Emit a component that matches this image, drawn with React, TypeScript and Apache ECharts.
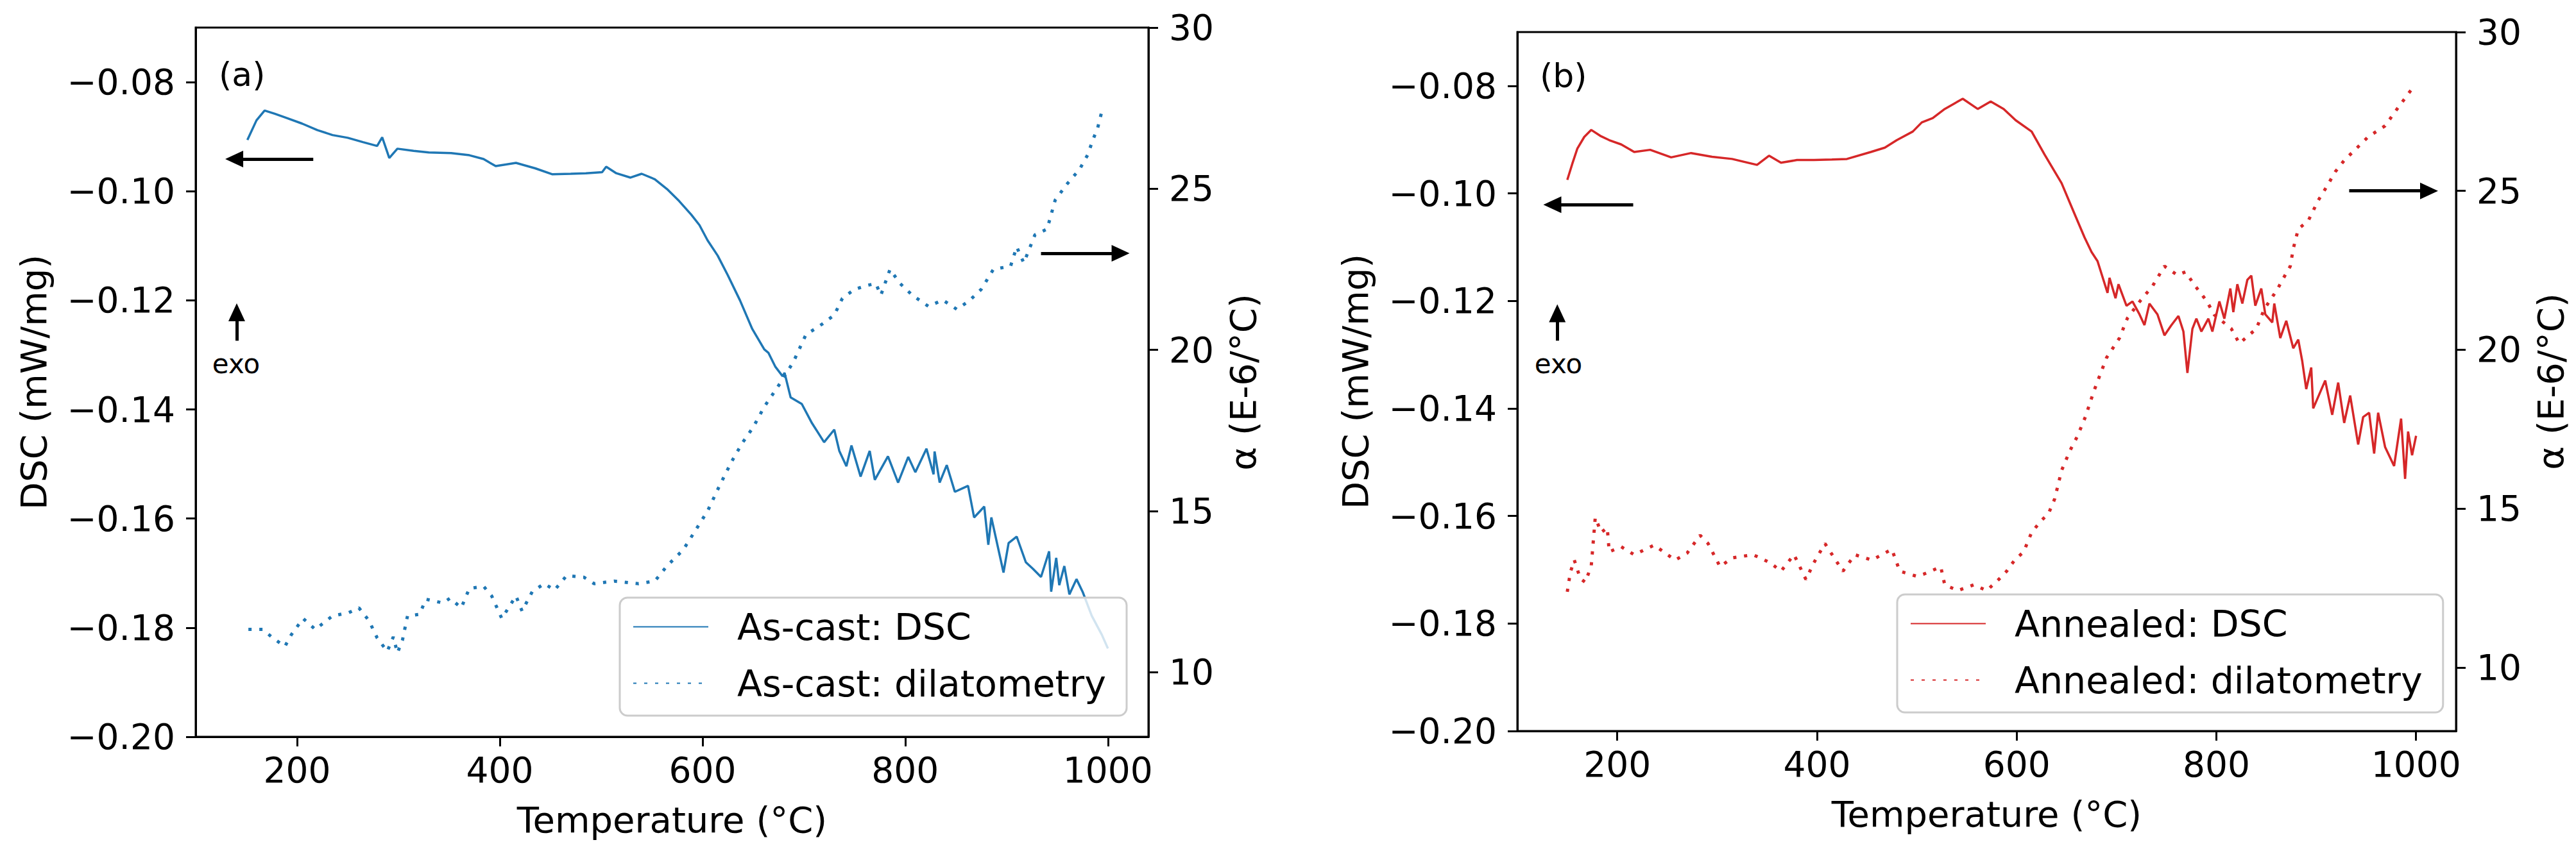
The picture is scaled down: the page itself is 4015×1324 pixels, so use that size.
import React, { useEffect, useRef } from 'react';
import * as echarts from 'echarts';

// ---------- data ----------
const xTicks = [200, 400, 600, 800, 1000];
const dscTicks = [-0.2, -0.18, -0.16, -0.14, -0.12, -0.1, -0.08];
const alphaTicks = [10, 15, 20, 25, 30];

// (a) As-cast DSC (mW/mg)
const aDscT = [151,160,168,178,190,205,220,235,250,265,279,284,291,299,315,330,352,370,384,396,416,435,452,470,485,501,505,515,529,540,553,565,577,589,597,605,615,625,637,649,661,665,672,679,681,687,698,708,720,730,735,742,747,756,765,770,783,793,803,810,821,828,829,834,841,849,862,868,878,882,885,897,902,910,919,926,934,942,944,949,952,957,962,969,975,984,994,1000];
const aDscV = [-0.0906,-0.0870,-0.0852,-0.0858,-0.0866,-0.0876,-0.0888,-0.0897,-0.0902,-0.0910,-0.0917,-0.0901,-0.0939,-0.0922,-0.0926,-0.0929,-0.0930,-0.0934,-0.0941,-0.0954,-0.0948,-0.0958,-0.0969,-0.0968,-0.0967,-0.0965,-0.0955,-0.0967,-0.0975,-0.0968,-0.0978,-0.0996,-0.1018,-0.1043,-0.1062,-0.1090,-0.1118,-0.1154,-0.1200,-0.1252,-0.1290,-0.1296,-0.1322,-0.1339,-0.1333,-0.1378,-0.1390,-0.1425,-0.1460,-0.1437,-0.1476,-0.1504,-0.1466,-0.1523,-0.1476,-0.1529,-0.1486,-0.1534,-0.1487,-0.1515,-0.1472,-0.1519,-0.1477,-0.1534,-0.1502,-0.1551,-0.1540,-0.1598,-0.1578,-0.1648,-0.1598,-0.1699,-0.1645,-0.1633,-0.1680,-0.1692,-0.1707,-0.1660,-0.1734,-0.1672,-0.1722,-0.1687,-0.1739,-0.1711,-0.1734,-0.1778,-0.1813,-0.1838];

// (a) As-cast dilatometry alpha (E-6/°C)
const aDilT = [152,166,176,188,194,206,218,235,251,261,271,279,289,295,299,304,309,321,327,344,351,362,370,384,392,402,416,422,432,444,454,466,483,493,513,537,553,565,581,593,605,617,629,639,650,661,678,690,702,718,730,738,750,762,771,776,785,795,807,823,837,851,863,875,887,904,910,917,928,940,948,960,972,980,985,990,994];
const aDilV = [11.33,11.33,11.07,10.8,11.15,11.67,11.33,11.75,11.85,12.0,11.6,11.07,10.65,11.1,10.6,11.0,11.75,11.8,12.27,12.15,12.3,12.0,12.6,12.67,12.37,11.67,12.37,11.9,12.5,12.75,12.55,13.0,12.95,12.75,12.83,12.75,12.83,13.3,13.8,14.4,15.0,15.8,16.55,17.1,17.6,18.24,19.03,19.65,20.47,20.8,21.08,21.6,21.88,22.0,22.06,21.7,22.5,22.06,21.7,21.35,21.55,21.26,21.52,21.88,22.5,22.6,23.2,22.7,23.57,23.75,24.65,25.16,25.6,26.05,26.5,26.9,27.4];

// (b) Annealed DSC (mW/mg)
const bDscT = [150,155,160,167,174,183,192,204,217,233,254,274,295,315,340,352,364,380,397,415,430,454,468,480,496,505,516,528,546,561,574,587,599,615,628,645,657,668,675,681,691,693,699,702,710,716,723,728,733,741,748,755,762,767,771,776,780,785,792,796,803,808,814,817,821,826,831,835,839,845,849,856,858,864,870,877,882,886,890,895,897,909,916,922,928,934,942,947,953,958,962,969,978,985,989,992,996,1000];
const bDscV = [-0.0975,-0.0945,-0.0917,-0.0895,-0.0882,-0.0893,-0.0901,-0.0909,-0.0923,-0.0919,-0.0933,-0.0925,-0.0932,-0.0936,-0.0947,-0.0930,-0.0943,-0.0938,-0.0938,-0.0937,-0.0936,-0.0923,-0.0915,-0.0901,-0.0885,-0.0868,-0.0860,-0.0843,-0.0824,-0.0843,-0.0829,-0.0843,-0.0864,-0.0885,-0.0928,-0.0981,-0.1034,-0.1082,-0.1109,-0.1126,-0.1185,-0.1157,-0.1195,-0.1169,-0.1209,-0.1201,-0.1225,-0.1245,-0.1205,-0.1225,-0.1264,-0.1245,-0.1228,-0.1257,-0.1334,-0.1252,-0.1233,-0.1257,-0.1233,-0.1257,-0.1201,-0.1233,-0.1177,-0.1221,-0.1169,-0.1205,-0.1161,-0.1153,-0.1209,-0.1177,-0.1225,-0.1240,-0.1205,-0.1269,-0.1237,-0.1288,-0.1272,-0.1312,-0.1364,-0.1324,-0.1400,-0.1348,-0.1412,-0.1352,-0.1427,-0.1376,-0.1467,-0.1416,-0.1408,-0.1484,-0.1408,-0.1472,-0.1507,-0.1419,-0.1531,-0.1443,-0.1487,-0.1451];

// (b) Annealed dilatometry alpha (E-6/°C)
const bDilT = [150,153,157,163,168,174,178,184,190,192,204,217,237,258,270,283,291,303,315,336,353,364,377,389,397,408,426,438,455,475,483,500,507,524,528,541,557,570,582,590,598,607,615,624,632,638,645,653,661,669,677,690,703,711,724,736,748,761,769,779,790,798,815,823,840,848,861,868,874,877,882,892,902,911,919,928,940,952,969,981,996];
const bDilV = [12.38,12.99,13.38,12.8,12.68,13.2,14.72,14.25,14.4,13.64,13.8,13.55,13.85,13.38,13.6,14.16,13.9,13.17,13.45,13.55,13.3,13.03,13.55,12.77,13.3,13.9,13.03,13.55,13.38,13.72,13.03,12.87,12.94,13.17,12.6,12.42,12.6,12.42,12.77,13.03,13.38,13.64,14.25,14.6,14.85,15.3,16.2,16.8,17.29,17.9,18.67,19.75,20.37,21.0,21.55,22.0,22.63,22.35,22.45,22.0,21.55,21.1,20.66,20.2,20.66,21.28,21.9,22.3,22.63,23.18,23.8,24.06,24.7,25.16,25.6,25.96,26.33,26.7,27.05,27.58,28.22];

// ---------- styling ----------
const FONT = 'DejaVu Sans';
const BLUE = '#1f77b4';
const RED = '#d62728';
const INK = '#000';

const pairs = (t: number[], v: number[]) => t.map((x, i) => [x, v[i]]);
const minus = (s: string) => s.replace('-', '\u2212');

function xAxisCfg(gridIndex: number) {
  return {
    type: 'value', gridIndex, min: 100, max: 1040,
    axisLine: { show: true, lineStyle: { color: INK, width: 3 } },
    axisTick: { show: true, length: 15, lineStyle: { color: INK, width: 3 }, customValues: xTicks },
    axisLabel: { customValues: xTicks, fontSize: 55, fontFamily: FONT, color: INK, margin: 24,
      formatter: (v: number) => String(v) },
    splitLine: { show: false },
    name: 'Temperature (°C)', nameLocation: 'middle', nameGap: 101,
    nameTextStyle: { fontSize: 56, fontFamily: FONT, color: INK },
  };
}
function dscAxisCfg(gridIndex: number) {
  return {
    type: 'value', gridIndex, position: 'left', min: -0.2, max: -0.07,
    axisLine: { show: true, lineStyle: { color: INK, width: 3 } },
    axisTick: { show: true, length: 15, lineStyle: { color: INK, width: 3 }, customValues: dscTicks },
    axisLabel: { customValues: dscTicks, fontSize: 55, fontFamily: FONT, color: INK, margin: 32,
      formatter: (v: number) => minus(v.toFixed(2)) },
    splitLine: { show: false },
    name: 'DSC (mW/mg)', nameLocation: 'middle', nameRotate: 90, nameGap: 225,
    nameTextStyle: { fontSize: 56, fontFamily: FONT, color: INK },
  };
}
function alphaAxisCfg(gridIndex: number) {
  return {
    type: 'value', gridIndex, position: 'right', min: 8, max: 30,
    axisLine: { show: true, lineStyle: { color: INK, width: 3 } },
    axisTick: { show: true, length: 15, lineStyle: { color: INK, width: 3 }, customValues: alphaTicks },
    axisLabel: { customValues: alphaTicks, fontSize: 55, fontFamily: FONT, color: INK, margin: 32,
      formatter: (v: number) => String(v) },
    splitLine: { show: false },
    name: 'α (E-6/°C)', nameLocation: 'middle', nameRotate: 90, nameGap: 119,
    nameTextStyle: { fontSize: 56, fontFamily: FONT, color: INK, verticalAlign: 'top' },
  };
}

const arrowMark = (lines: any[]) => ({
  silent: true,
  symbol: ['none', 'triangle'],
  symbolSize: [26, 28],
  label: { show: false },
  lineStyle: { color: INK, width: 5, type: 'solid' },
  emphasis: { disabled: true },
  data: lines,
});

function legendCfg(names: string[], left: number, top: number) {
  return {
    data: names, orient: 'vertical', left, top,
    itemWidth: 117, itemHeight: 20, itemGap: 31,
    padding: [17, 32, 22, 20],
    backgroundColor: 'rgba(255,255,255,0.8)',
    borderColor: '#cccccc', borderWidth: 3, borderRadius: 12,
    itemStyle: { opacity: 0 },
    textStyle: { fontSize: 57, fontFamily: FONT, color: INK, padding: [0, 0, 0, 40] },
    selectedMode: false,
  };
}

const option: any = {
  animation: false,
  backgroundColor: '#fff',
  textStyle: { fontFamily: FONT },
  grid: [
    { left: 305, top: 43, width: 1485, height: 1106, show: true, borderColor: INK, borderWidth: 3, backgroundColor: 'transparent' },
    { left: 2365, top: 50, width: 1463, height: 1090, show: true, borderColor: INK, borderWidth: 3, backgroundColor: 'transparent' },
  ],
  xAxis: [xAxisCfg(0), xAxisCfg(1)],
  yAxis: [dscAxisCfg(0), alphaAxisCfg(0), dscAxisCfg(1), alphaAxisCfg(1)],
  legend: [
    legendCfg(['As-cast: DSC', 'As-cast: dilatometry'], 966, 932),
    legendCfg(['Annealed: DSC', 'Annealed: dilatometry'], 2957, 927),
  ],
  series: [
    {
      name: 'As-cast: DSC', type: 'line', xAxisIndex: 0, yAxisIndex: 0, symbol: 'none',
      data: pairs(aDscT, aDscV), lineStyle: { color: BLUE, width: 3.5 }, itemStyle: { color: BLUE },
      markLine: arrowMark([
        [{ coord: [216, -0.0941] }, { coord: [138, -0.0941] }],
        [{ coord: [140.5, -0.1274] }, { coord: [140.5, -0.1222] }],
      ]),
    },
    {
      name: 'As-cast: dilatometry', type: 'line', xAxisIndex: 0, yAxisIndex: 1, symbol: 'none',
      data: pairs(aDilT, aDilV), lineStyle: { color: BLUE, width: 5, type: [5, 12] }, itemStyle: { color: BLUE },
      markLine: arrowMark([
        [{ coord: [934, 23.0] }, { coord: [1012.5, 23.0] }],
      ]),
    },
    {
      name: 'Annealed: DSC', type: 'line', xAxisIndex: 1, yAxisIndex: 2, symbol: 'none',
      data: pairs(bDscT, bDscV), lineStyle: { color: RED, width: 3.5 }, itemStyle: { color: RED },
      markLine: arrowMark([
        [{ coord: [216, -0.1021] }, { coord: [135, -0.1021] }],
        [{ coord: [140, -0.1274] }, { coord: [140, -0.1223] }],
      ]),
    },
    {
      name: 'Annealed: dilatometry', type: 'line', xAxisIndex: 1, yAxisIndex: 3, symbol: 'none',
      data: pairs(bDilT, bDilV), lineStyle: { color: RED, width: 5, type: [5, 12] }, itemStyle: { color: RED },
      markLine: arrowMark([
        [{ coord: [933, 25.0] }, { coord: [1013, 25.0] }],
      ]),
    },
  ],
  graphic: [
    { type: 'text', x: 341, y: 116, style: { text: '(a)', fontSize: 52, fontFamily: FONT, fill: INK, align: 'left', verticalAlign: 'middle' } },
    { type: 'text', x: 368, y: 567, style: { text: 'exo', fontSize: 42, fontFamily: FONT, fill: INK, align: 'center', verticalAlign: 'middle' } },
    { type: 'text', x: 2400, y: 118, style: { text: '(b)', fontSize: 52, fontFamily: FONT, fill: INK, align: 'left', verticalAlign: 'middle' } },
    { type: 'text', x: 2429, y: 567, style: { text: 'exo', fontSize: 42, fontFamily: FONT, fill: INK, align: 'center', verticalAlign: 'middle' } },
  ],
};

export default function App() {
  const ref = useRef<HTMLDivElement>(null);
  useEffect(() => {
    if (!ref.current) return;
    const chart = echarts.init(ref.current, null, { renderer: 'svg' });
    chart.setOption(option);
    return () => chart.dispose();
  }, []);
  return (
    <div
      ref={ref}
      style={{ position: 'fixed', left: 0, top: 0, width: 4015, height: 1324, background: '#fff' }}
    />
  );
}
